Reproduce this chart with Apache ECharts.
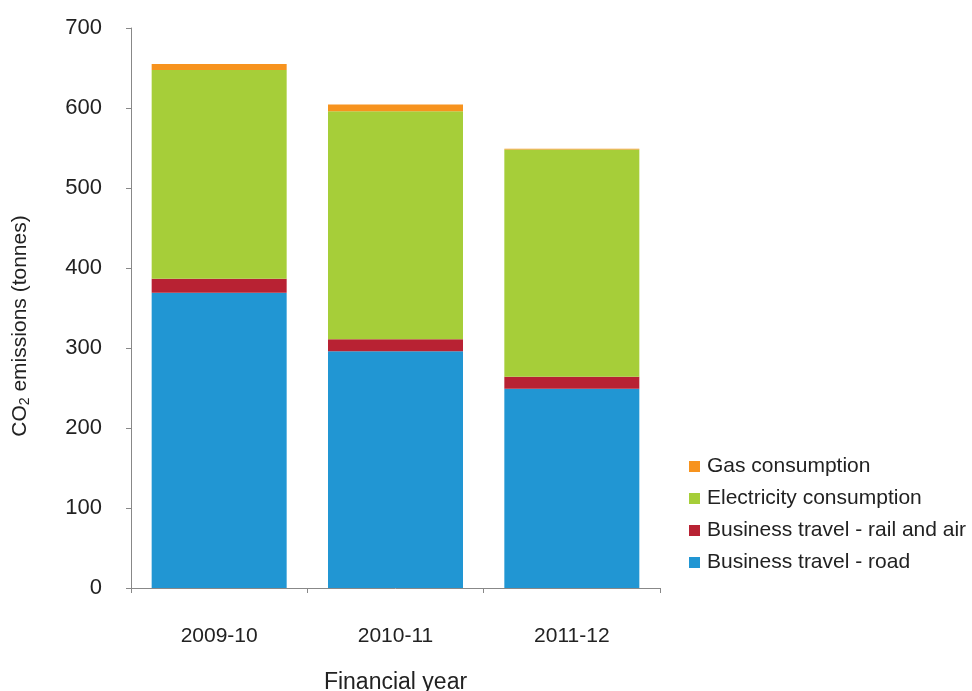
<!DOCTYPE html>
<html><head><meta charset="utf-8">
<script src="https://cdn.jsdelivr.net/npm/echarts@6/dist/echarts.min.js"></script>
<style>html,body{margin:0;padding:0;background:#fff}#c{width:972px;height:691px}</style>
</head><body><div id="c"></div>
<script>
var categories = ['2009-10', '2010-11', '2011-12'];
var road = [369, 296, 249];
var railAir = [17.5, 15, 15];
var electricity = [261, 285, 284];
var gas = [7.5, 8.5, 1];
var yTicks = [0, 700, 100];
var seriesNames = ['Business travel - road', 'Business travel - rail and air', 'Electricity consumption', 'Gas consumption'];
var colors = ['#2196D3', '#B82233', '#A6CE39', '#F7931E'];
var values = [road, railAir, electricity, gas];

var font = 'Liberation Sans, Arial, sans-serif';
var chart = echarts.init(document.getElementById('c'));
chart.setOption({
  animation: false,
  textStyle: {fontFamily: font},
  grid: {left: 131, right: 312, top: 28, bottom: 103, containLabel: false, outerBoundsMode: 'none'},
  legend: {
    orient: 'vertical', left: 684, top: 451,
    data: seriesNames.slice().reverse(),
    icon: 'rect', itemWidth: 11, itemHeight: 11, itemGap: 11,
    textStyle: {fontSize: 21, color: '#222', fontFamily: font, padding: [0,0,0,2]}
  },
  xAxis: {
    type: 'category', data: categories,
    name: 'Financial year', nameLocation: 'middle', nameGap: 83,
    nameTextStyle: {fontSize: 23, color: '#222', fontFamily: font},
    axisLine: {lineStyle: {color: '#888', width: 1}},
    axisTick: {show: true, length: 5, lineStyle: {color: '#888'}},
    axisLabel: {fontSize: 21, color: '#222', margin: 38, fontFamily: font}
  },
  yAxis: {
    type: 'value', min: yTicks[0], max: yTicks[1], interval: yTicks[2],
    name: 'CO{sub|2} emissions (tonnes)', nameLocation: 'middle', nameGap: 99,
    nameTextStyle: {fontSize: 21, color: '#222', fontFamily: font, padding: [0, 36, 0, 0],
      rich: {sub: {fontSize: 14, verticalAlign: 'bottom', padding: [9,0,0,0], color: '#222', fontFamily: font}}},
    axisLine: {show: true, lineStyle: {color: '#888', width: 1}},
    axisTick: {show: true, length: 5, lineStyle: {color: '#888'}},
    splitLine: {show: false},
    axisLabel: {fontSize: 22, color: '#222', margin: 29, fontFamily: font}
  },
  series: seriesNames.map(function (n, i) {
    return {name: n, type: 'bar', stack: 'total', data: values[i], barWidth: 135,
      itemStyle: {color: colors[i]}};
  })
});
</script></body></html>
